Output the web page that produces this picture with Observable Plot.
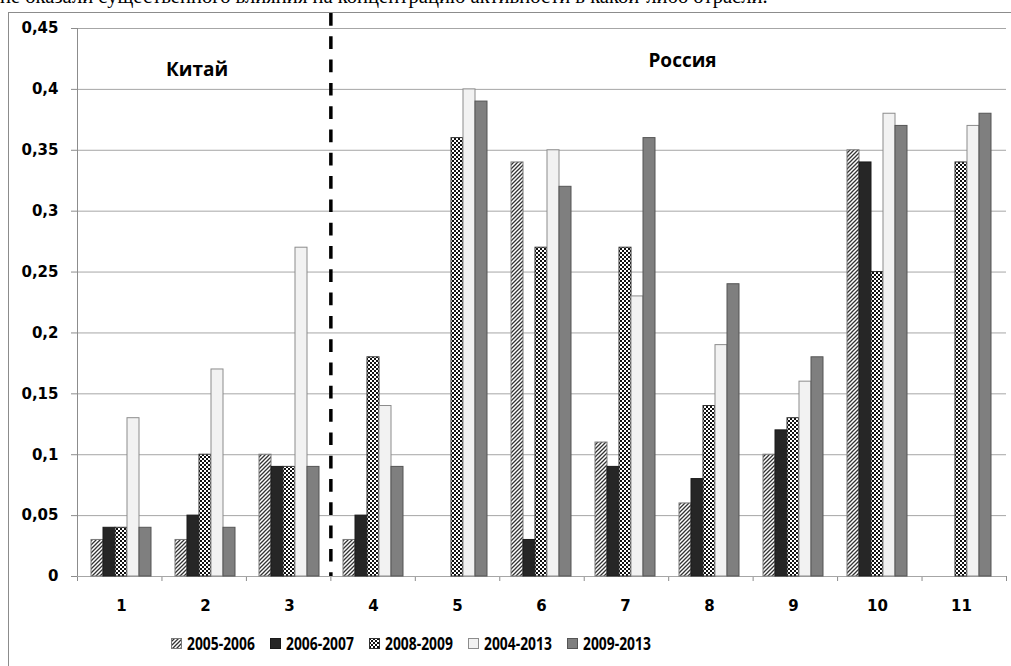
<!DOCTYPE html>
<html>
<head>
<meta charset="utf-8">
<script src="https://cdn.jsdelivr.net/npm/d3@7"></script>
<script src="https://cdn.jsdelivr.net/npm/@observablehq/plot@0.6"></script>
<style>
  html, body { margin: 0; padding: 0; background: white; width: 1011px; height: 666px; overflow: hidden; }
  #top-text { position: absolute; left: 0; top: -14px; font-family: "Liberation Serif", serif; font-size: 20.6px; line-height: 20px; white-space: nowrap; color: #000; }
  #box { position: absolute; left: 8px; top: 12px; width: 1100px; height: 700px; border-left: 1px solid #8c8c8c; border-top: 1px solid #8c8c8c; pointer-events: none; }
  .layer { position: absolute; left: 0; top: 0; }
  .bg g[aria-label="y-axis tick"], .bg g[aria-label="x-axis tick"] { stroke: #8c8c8c; }
  .bg g[aria-label="y-axis"] .tick line, .bg g[aria-label="x-axis"] .tick line { stroke: #8c8c8c; }
  #legend { position: absolute; top: 633px; left: 171px; display: flex; font-family: "Open Sans", sans-serif; font-weight: bold; font-size: 18px; line-height: 20px; color: #000; }
  #legend .item { display: flex; align-items: center; width: 99px; }
  #legend svg { margin-right: 5px; flex: none; }
  #legend span { display: inline-block; white-space: nowrap; transform: scaleX(0.77); transform-origin: 0 50%; }
</style>
</head>
<body>
<svg width="0" height="0" style="position:absolute">
  <defs>
    <pattern id="hatch" patternUnits="userSpaceOnUse" width="4" height="4">
      <rect width="4" height="4" fill="white"/>
      <path d="M-1,1 l2,-2 M0,4 l4,-4 M3,5 l2,-2" stroke="#333" stroke-width="1.3"/>
    </pattern>
    <pattern id="checker" patternUnits="userSpaceOnUse" width="4" height="4">
      <rect width="4" height="4" fill="white"/>
      <rect x="0" y="0" width="2" height="2" fill="#111"/>
      <rect x="2" y="2" width="2" height="2" fill="#111"/>
    </pattern>
  </defs>
</svg>
<div id="top-text">не оказали существенного влияния на концентрацию активности в какой-либо отрасли.</div>
<div id="chart"></div>
<div id="legend"></div>
<div id="box"></div>
<script>
// ---- data ----
const categories = ["1", "2", "3", "4", "5", "6", "7", "8", "9", "10", "11"];
const series = ["2005-2006", "2006-2007", "2008-2009", "2004-2013", "2009-2013"];
const s2005_2006 = [0.03, 0.03, 0.10, 0.03, null, 0.34, 0.11, 0.06, 0.10, 0.35, null];
const s2006_2007 = [0.04, 0.05, 0.09, 0.05, null, 0.03, 0.09, 0.08, 0.12, 0.34, null];
const s2008_2009 = [0.04, 0.10, 0.09, 0.18, 0.36, 0.27, 0.27, 0.14, 0.13, 0.25, 0.34];
const s2004_2013 = [0.13, 0.17, 0.27, 0.14, 0.40, 0.35, 0.23, 0.19, 0.16, 0.38, 0.37];
const s2009_2013 = [0.04, 0.04, 0.09, 0.09, 0.39, 0.32, 0.36, 0.24, 0.18, 0.37, 0.38];
const yTicks = [0, 0.05, 0.1, 0.15, 0.2, 0.25, 0.3, 0.35, 0.4, 0.45];
const yTickLabels = ["0", "0,05", "0,1", "0,15", "0,2", "0,25", "0,3", "0,35", "0,4", "0,45"];
const groupLabels = ["Китай", "Россия"];
const groupLabelX = [1.915, 7.664];
const groupLabelY = [0.416, 0.4235];
const dividerAfter = [3];

// ---- styles ----
const fills = {
  "2005-2006": "url(#hatch)",
  "2006-2007": "#262626",
  "2008-2009": "url(#checker)",
  "2004-2013": "#f2f2f2",
  "2009-2013": "#7f7f7f"
};
const strokes = {
  "2005-2006": "#7a7a7a",
  "2006-2007": "#1a1a1a",
  "2008-2009": "#333333",
  "2004-2013": "#8c8c8c",
  "2009-2013": "#555555"
};

const valuesBySeries = [s2005_2006, s2006_2007, s2008_2009, s2004_2013, s2009_2013];
const rows = [];
categories.forEach((c, i) => {
  series.forEach((s, j) => {
    const v = valuesBySeries[j][i];
    if (v != null) rows.push({cat: c, series: s, value: v});
  });
});
const annotations = groupLabels.map((t, i) => ({label: t, x: groupLabelX[i], y: groupLabelY[i]}));
const boundaries = d3.range(categories.length + 1).map(i => i + 0.5);

const W = 1011, H = 625;
const margins = {marginLeft: 77, marginRight: 5, marginTop: 28, marginBottom: 49};
const baseStyle = {fontFamily: "DejaVu Sans", fontSize: "15px", fontWeight: "bold", color: "black", background: "transparent", overflow: "visible"};
const fmt = d => yTickLabels[yTicks.findIndex(t => Math.abs(t - d) < 1e-9)] ?? "";

const bg = Plot.plot({
  width: W, height: H, ...margins,
  style: baseStyle,
  x: {type: "linear", domain: [0.5, categories.length + 0.5], ticks: boundaries, tickFormat: () => "", tickSize: 5, label: null},
  y: {domain: [0, 0.45], ticks: yTicks, tickFormat: fmt, tickSize: 6, tickPadding: 13, label: null},
  marks: [
    Plot.ruleY(yTicks, {stroke: "#a6a6a6", strokeWidth: 1}),
    Plot.ruleX([0.5], {stroke: "#8c8c8c"}),
    Plot.ruleX(dividerAfter.map(d => d + 0.5), {stroke: "black", strokeWidth: 3.5, strokeDasharray: "12.7,10.6", insetTop: -15}),
    Plot.text(annotations, {x: "x", y: "y", text: "label", fontFamily: "Open Sans", fontSize: 19, fontWeight: "bold", fill: "black"})
  ]
});
bg.classList.add("layer", "bg");

const fg = Plot.plot({
  width: W, height: H, ...margins,
  style: baseStyle,
  fx: {domain: categories, paddingInner: 0.234, paddingOuter: 0.117, axis: "bottom", tickSize: 0, tickPadding: 24, label: null},
  x: {domain: series, padding: 0, axis: null},
  y: {domain: [0, 0.45], axis: null},
  color: {type: "identity"},
  marks: [
    Plot.barY(rows, {fx: "cat", x: "series", y: "value", fill: d => fills[d.series], stroke: d => strokes[d.series], strokeWidth: 1})
  ]
});
fg.classList.add("layer", "fg");

const chart = document.getElementById("chart");
chart.append(bg, fg);

// legend
const legend = document.getElementById("legend");
series.forEach(s => {
  const item = document.createElement("div");
  item.className = "item";
  item.innerHTML = `<svg width="11" height="11"><rect x="0.5" y="0.5" width="10" height="10" fill="${fills[s]}" stroke="${strokes[s]}"/></svg><span>${s}</span>`;
  legend.append(item);
});
</script>
</body>
</html>
